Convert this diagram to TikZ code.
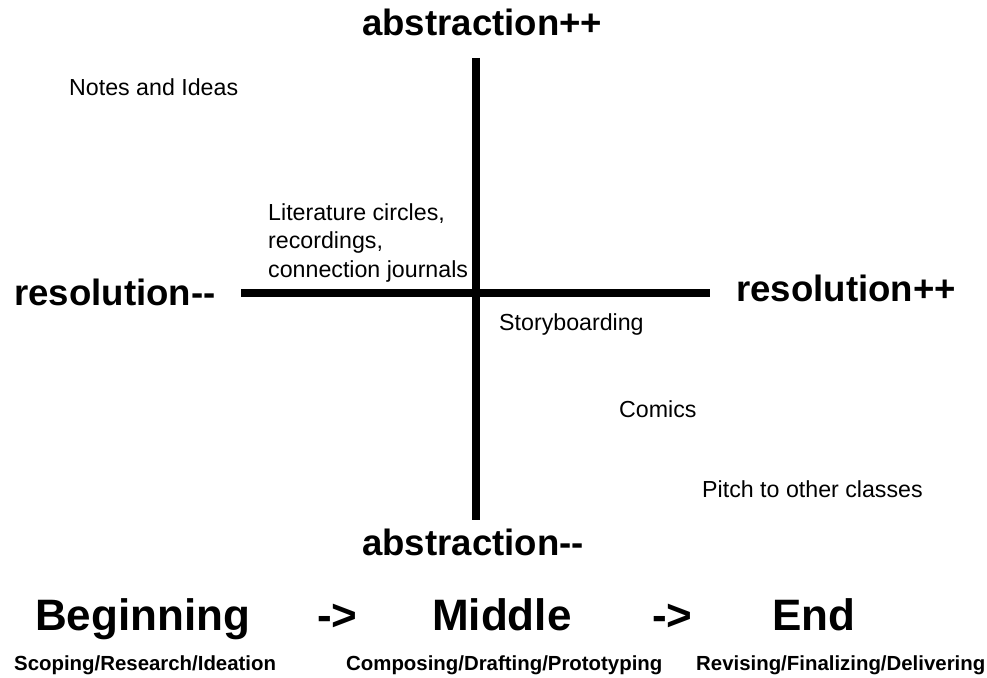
\documentclass[tikz,border=0pt]{standalone}
\usepackage{fontspec}
\setmainfont{Liberation Sans}
\begin{document}
\begin{tikzpicture}[x=1pt,y=-1pt,
  axis/.style={line width=8pt},
  axislabel/.style={font=\fontsize{36.6}{40}\selectfont\bfseries, inner sep=0pt, anchor=base west},
  phase/.style={font=\fontsize{44}{48}\selectfont\bfseries, inner sep=0pt, anchor=base west},
  sub/.style={font=\fontsize{20.4}{24}\selectfont\bfseries, inner sep=0pt, anchor=base west},
  item/.style={font=\fontsize{23.2}{28.5}\selectfont, inner sep=0pt, anchor=base west, align=left}]
\useasboundingbox (0,0) rectangle (987,677);
% axes
\coordinate (top) at (476,58);
\coordinate (bot) at (476,520);
\coordinate (lft) at (241,293);
\coordinate (rgt) at (710,293);
\draw[axis] (top) -- (bot);
\draw[axis] (lft) -- (rgt);
% axis labels
\node[axislabel] (aplus) at (362,36) {abstraction++};
\node[axislabel] (rminus) at (14,305) {resolution-{}-};
\node[axislabel] (rplus) at (736,301) {resolution++};
\node[axislabel] (aminus) at (362,555) {abstraction-{}-};
% items
\node[item] (notes) at (69,95) {Notes and Ideas};
\node[item] (lit) at (268,277) {Literature circles,\\recordings,\\connection journals};
\node[item] (story) at (499,330) {Storyboarding};
\node[item] (comics) at (619,417) {Comics};
\node[item] (pitch) at (702,497) {Pitch to other classes};
% phases
\node[phase] (begin) at (35,630) {Beginning};
\node[phase] (arr1) at (317,630) {->};
\node[phase] (middle) at (432,630) {Middle};
\node[phase] (arr2) at (652,630) {->};
\node[phase] (end) at (772,630) {End};
\node[sub] (s1) at (14,670) {Scoping/Research/Ideation};
\node[sub] (s2) at (346,670) {Composing/Drafting/Prototyping};
\node[sub] (s3) at (696,670) {Revising/Finalizing/Delivering};
\end{tikzpicture}
\end{document}
